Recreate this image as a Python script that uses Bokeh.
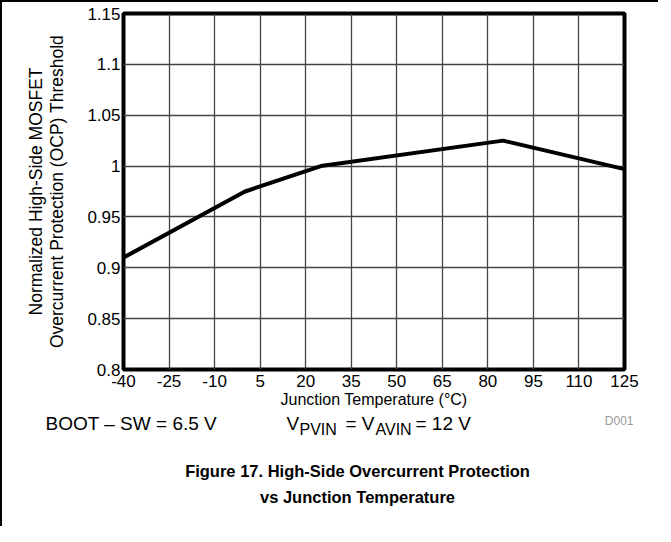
from bokeh.plotting import figure
from bokeh.models import Label, FixedTicker, Range1d
from bokeh.layouts import column
from bokeh.embed import file_html
from bokeh.resources import INLINE

# ---- data ----
temps = [-40, 0, 25, 85, 125]
ocp = [0.910, 0.975, 1.000, 1.025, 0.997]
x_ticks = [-40, -25, -10, 5, 20, 35, 50, 65, 80, 95, 110, 125]
x_tick_labels = ["-40", "-25", "-10", "5", "20", "35", "50", "65", "80", "95", "110", "125"]
y_ticks = [0.8, 0.85, 0.9, 0.95, 1.0, 1.05, 1.1, 1.15]
y_tick_labels = ["0.8", "0.85", "0.9", "0.95", "1", "1.05", "1.1", "1.15"]
x_label = "Junction Temperature (°C)"
y_label = "Normalized High-Side MOSFET\nOvercurrent Protection (OCP) Threshold"
title_lines = ["Figure 17. High-Side Overcurrent Protection", "vs Junction Temperature"]

FONT = "Liberation Sans"
W = 658
H1, H2 = 413, 113
FL, FR, FT, FB = 121, 622, 11, 367  # frame edges in figure pixels

p = figure(width=W, height=H1, output_backend="svg", toolbar_location=None,
           x_range=Range1d(-40, 125), y_range=Range1d(0.8, 1.15),
           min_border_left=FL, min_border_right=W - FR,
           min_border_top=FT, min_border_bottom=H1 - FB,
           styles={"border-left": "2px solid black", "border-top": "2px solid black"})

p.outline_line_color = "black"
p.outline_line_width = 4
p.background_fill_color = "white"
p.border_fill_color = "white"

for ax in (p.xaxis, p.yaxis):
    ax.axis_line_color = None
    ax.major_tick_line_color = None
    ax.minor_tick_line_color = None
    ax.major_tick_out = 0
    ax.major_tick_in = 0
    ax.minor_tick_out = 0
    ax.minor_tick_in = 0
    ax.major_label_text_font = FONT
    ax.major_label_text_font_size = "17px"
    ax.major_label_text_color = "black"
    ax.axis_label_text_font = FONT
    ax.axis_label_text_font_style = "normal"
    ax.axis_label_text_color = "black"

p.xaxis.axis_label_text_font_size = "16px"
p.yaxis.axis_label_text_font_size = "17.5px"
p.yaxis.axis_label_text_line_height = 1.05

p.xaxis.ticker = FixedTicker(ticks=x_ticks)
p.yaxis.ticker = FixedTicker(ticks=y_ticks)
p.xaxis.major_label_overrides = dict(zip(x_ticks, x_tick_labels))
p.yaxis.major_label_overrides = dict(zip(y_ticks, y_tick_labels))
p.xaxis.axis_label = x_label
p.yaxis.axis_label = y_label
p.xaxis.major_label_standoff = 5
p.yaxis.major_label_standoff = 3
p.xaxis.axis_label_standoff = 1
p.yaxis.axis_label_standoff = 17

p.xgrid.ticker = FixedTicker(ticks=x_ticks)
p.ygrid.ticker = FixedTicker(ticks=y_ticks)
for g in (p.xgrid, p.ygrid):
    g.grid_line_color = "#444444"
    g.grid_line_width = 1.3

p.line(temps, ocp, line_color="black", line_width=4)

# ---- caption panel below the chart (pixel coordinates, y downwards) ----
q = figure(width=W, height=H2, output_backend="svg", toolbar_location=None,
           x_range=Range1d(0, W), y_range=Range1d(H2, 0),
           min_border_left=0, min_border_right=0, min_border_top=0, min_border_bottom=0,
           styles={"border-left": "2px solid black"})
q.axis.visible = False
q.grid.visible = False
q.outline_line_color = None
q.background_fill_color = "white"
q.border_fill_color = "white"

for fig in (p, q):
    if "frame_align" in fig.properties():
        fig.frame_align = False

def lab(text, x, y, size="19px", style="normal", align="left", color="black"):
    q.add_layout(Label(x=x, y=y, text=text, text_font=FONT, text_font_size=size,
                       text_font_style=style, text_align=align, text_baseline="middle",
                       text_color=color))

lab("D001", 631, 7, size="12px", align="right", color="#9a9a9a")
lab("BOOT – SW = 6.5 V", 43, 10)
lab("V", 284, 10)
lab("PVIN", 297, 16, size="16px")
lab("= V", 343, 10)
lab("AVIN", 373, 16, size="16px")
lab("= 12 V", 413, 10)
lab(title_lines[0], 355, 57, size="16.5px", style="bold", align="center")
lab(title_lines[1], 355, 83, size="16.5px", style="bold", align="center")

open("out.html", "w").write(file_html(column(p, q, spacing=0), INLINE))
